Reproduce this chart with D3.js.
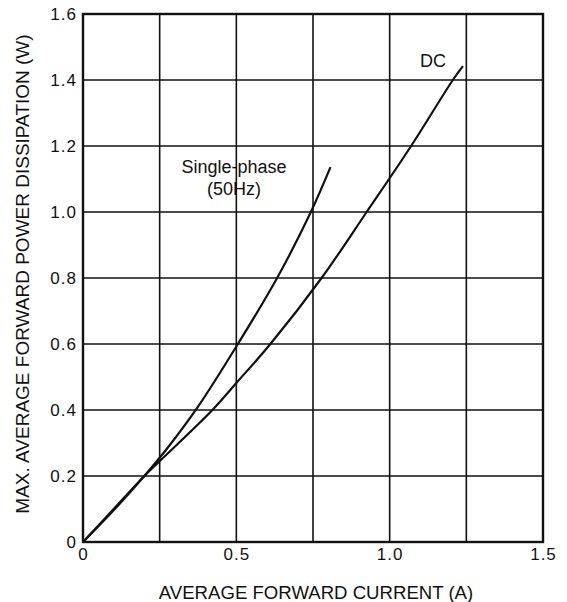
<!DOCTYPE html>
<html>
<head>
<meta charset="utf-8">
<script src="https://cdn.jsdelivr.net/npm/d3@7"></script>
<style>
  body { margin: 0; background: #fff; }
  text { font-family: "Liberation Sans", Arial, sans-serif; fill: #111; }
</style>
</head>
<body>
<svg id="chart" width="567" height="602"></svg>
<script>
// values
const xTicks = [0, 0.5, 1.0, 1.5]
const xTickLabels = ["0", "0.5", "1.0", "1.5"]
const yTicks = [0, 0.2, 0.4, 0.6, 0.8, 1.0, 1.2, 1.4, 1.6]
const yTickLabels = ["0", "0.2", "0.4", "0.6", "0.8", "1.0", "1.2", "1.4", "1.6"]
const xGrid = [0.25, 0.5, 0.75, 1.0, 1.25]
const yGrid = [0.2, 0.4, 0.6, 0.8, 1.0, 1.2, 1.4]

const singleCurrent = [0, 0.1, 0.2, 0.28, 0.375, 0.505, 0.633, 0.743, 0.807]
const singlePower   = [0, 0.096, 0.2, 0.29, 0.41, 0.6, 0.8, 1.0, 1.136]
const dcCurrent = [0, 0.1, 0.2, 0.25, 0.422, 0.5, 0.611, 0.778, 0.925, 1.07, 1.206, 1.239]
const dcPower   = [0, 0.1, 0.2, 0.245, 0.4, 0.482, 0.6, 0.8, 1.0, 1.2, 1.4, 1.442]

const svg = d3.select("#chart")

const x = d3.scaleLinear().domain([0, 1.5]).range([83, 543])
const y = d3.scaleLinear().domain([0, 1.6]).range([542, 14])

// grid
svg.append("g")
  .selectAll("line")
  .data(xGrid)
  .join("line")
  .attr("x1", d => x(d)).attr("x2", d => x(d))
  .attr("y1", y(0)).attr("y2", y(1.6))
  .attr("stroke", "#111").attr("stroke-width", 1.6)

svg.append("g")
  .selectAll("line")
  .data(yGrid)
  .join("line")
  .attr("x1", x(0)).attr("x2", x(1.5))
  .attr("y1", d => y(d)).attr("y2", d => y(d))
  .attr("stroke", "#111").attr("stroke-width", 1.6)

// frame
svg.append("rect")
  .attr("x", x(0)).attr("y", y(1.6))
  .attr("width", x(1.5) - x(0)).attr("height", y(0) - y(1.6))
  .attr("fill", "none").attr("stroke", "#111").attr("stroke-width", 2.4)

// axes: only labels, lines are the frame
const xAxis = d3.axisBottom(x).tickValues(xTicks).tickSize(0)
  .tickFormat((d, i) => xTickLabels[i])
const gx = svg.append("g").attr("transform", `translate(0,${y(0)})`).call(xAxis)
gx.select(".domain").remove()
gx.selectAll("text")
  .attr("y", 6).attr("dy", "0.71em")
  .style("font-size", "17px").style("letter-spacing", "1px")

const yAxis = d3.axisLeft(y).tickValues(yTicks).tickSize(0)
  .tickFormat((d, i) => yTickLabels[i])
const gy = svg.append("g").attr("transform", `translate(${x(0)},0)`).call(yAxis)
gy.select(".domain").remove()
gy.selectAll("text")
  .attr("x", -6)
  .style("font-size", "17px").style("letter-spacing", "1px")

// curves
let line = d3.line()
  .x(p => x(p[0]))
  .y(p => y(p[1]))
  .curve(d3.curveCatmullRom.alpha(0.5))

svg.append("path")
  .attr("d", line(d3.zip(singleCurrent, singlePower)))
  .attr("fill", "none").attr("stroke", "#111").attr("stroke-width", 2.2)

svg.append("path")
  .attr("d", line(d3.zip(dcCurrent, dcPower)))
  .attr("fill", "none").attr("stroke", "#111").attr("stroke-width", 2.2)

// curve labels
svg.append("text")
  .attr("x", 234).attr("y", 173)
  .attr("text-anchor", "middle").style("font-size", "18px")
  .text("Single-phase")
svg.append("text")
  .attr("x", 234).attr("y", 195)
  .attr("text-anchor", "middle").style("font-size", "18px")
  .text("(50Hz)")
svg.append("text")
  .attr("x", 433).attr("y", 67)
  .attr("text-anchor", "middle").style("font-size", "18px")
  .text("DC")

// axis titles
svg.append("text")
  .attr("x", 316).attr("y", 599)
  .attr("text-anchor", "middle").style("font-size", "18.6px")
  .text("AVERAGE FORWARD CURRENT (A)")

svg.append("text")
  .attr("transform", "translate(29,274) rotate(-90)")
  .attr("text-anchor", "middle").style("font-size", "19px")
  .text("MAX. AVERAGE FORWARD POWER DISSIPATION (W)")
</script>
</body>
</html>
